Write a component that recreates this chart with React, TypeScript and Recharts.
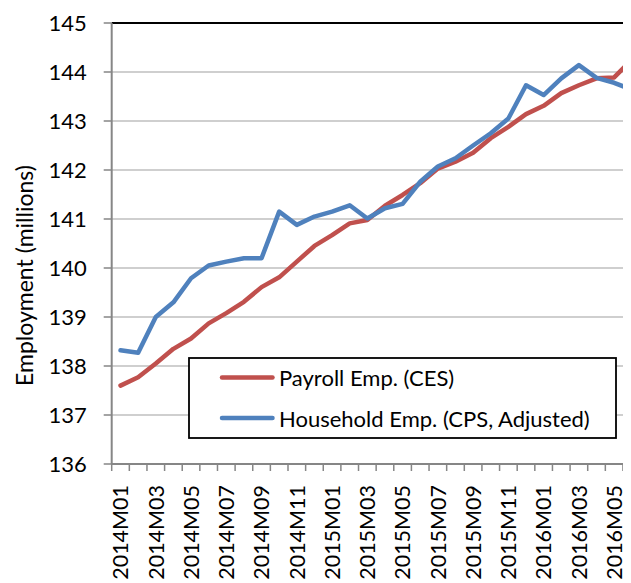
import {
  LineChart,
  Line,
  XAxis,
  YAxis,
  CartesianGrid,
  Legend,
  ReferenceLine,
} from "recharts";

const months = [
  "2014M01", "2014M02", "2014M03", "2014M04", "2014M05", "2014M06",
  "2014M07", "2014M08", "2014M09", "2014M10", "2014M11", "2014M12",
  "2015M01", "2015M02", "2015M03", "2015M04", "2015M05", "2015M06",
  "2015M07", "2015M08", "2015M09", "2015M10", "2015M11", "2015M12",
  "2016M01", "2016M02", "2016M03", "2016M04", "2016M05", "2016M06",
];

// millions of jobs
const payroll = [
  137.6, 137.77, 138.05, 138.35, 138.56, 138.87, 139.08, 139.31, 139.61, 139.81,
  140.13, 140.45, 140.67, 140.91, 140.98, 141.27, 141.49, 141.73, 142.03, 142.17,
  142.35, 142.65, 142.88, 143.14, 143.31, 143.57, 143.73, 143.87, 143.89, 144.25,
];

const household = [
  138.32, 138.27, 139.0, 139.3, 139.79, 140.05, 140.13, 140.2, 140.2, 141.15,
  140.88, 141.05, 141.15, 141.28, 141.01, 141.22, 141.31, 141.76, 142.07, 142.24,
  142.5, 142.75, 143.05, 143.73, 143.53, 143.87, 144.14, 143.88, 143.78, 143.64,
];

const yTicks = [136, 137, 138, 139, 140, 141, 142, 143, 144, 145];

const seriesNames = ["Payroll Emp. (CES)", "Household Emp. (CPS, Adjusted)"];

const RED = "#C0504D";
const BLUE = "#4F81BD";
const AXIS = "#868686";

const data = months.map((m, i) => ({
  month: m,
  pos: i + 0.5,
  payroll: payroll[i],
  household: household[i],
}));

// tick marks sit between months, labels on every other month
const boundaryTicks = [...months.map((_, i) => i), months.length];
const labelTicks = months.map((_, i) => i + 0.5).filter((_, i) => i % 2 === 0);

function MonthTick({ x, y, payload }: any) {
  const label = months[Math.floor(payload.value)];
  return (
    <text
      x={x}
      y={y}
      transform={`rotate(-90 ${x} ${y})`}
      textAnchor="end"
      dy="0.36em"
      fontSize={21.5}
      fill="#000"
    >
      {label}
    </text>
  );
}

function YTitle({ viewBox }: any) {
  const cx = viewBox.x + 16;
  const cy = viewBox.y + viewBox.height / 2 + 32;
  return (
    <text
      x={cx}
      y={cy}
      transform={`rotate(-90 ${cx} ${cy})`}
      textAnchor="middle"
      dominantBaseline="central"
      fontSize={23}
      fill="#000"
    >
      Employment (millions)
    </text>
  );
}

function LegendBox({ payload }: any) {
  const rows = [...(payload || [])].sort(
    (a: any, b: any) => seriesNames.indexOf(a.value) - seriesNames.indexOf(b.value)
  );
  return (
    <svg width={429} height={82}>
      <rect x={1} y={1} width={427} height={80} fill="#fff" stroke="#000" strokeWidth={1.8} />
      {rows.map((p: any, i: number) => {
        const cy = 20.5 + i * 40.6;
        return (
          <g key={p.value}>
            <line
              x1={34}
              y1={cy}
              x2={84.5}
              y2={cy}
              stroke={p.color}
              strokeWidth={4.5}
              strokeLinecap="round"
            />
            <text x={91} y={cy} dominantBaseline="central" fontSize={22} fill="#000">
              {p.value}
            </text>
          </g>
        );
      })}
    </svg>
  );
}

export default function App() {
  return (
    <div style={{ width: 623, height: 575, overflow: "hidden", fontFamily: "Lato" }}>
      <LineChart
        width={660}
        height={600}
        data={data}
        margin={{ top: 15, right: 27.4, bottom: 0, left: 0 }}
      >
        <CartesianGrid
          xAxisId="grid"
          vertical={false}
          stroke="#bfbfbf"
          strokeWidth={1.5}
        />
        <XAxis
          xAxisId="grid"
          dataKey="pos"
          type="number"
          domain={[0, months.length]}
          ticks={boundaryTicks}
          interval={0}
          height={10}
          tickSize={7}
          tickFormatter={() => ""}
          axisLine={{ stroke: AXIS, strokeWidth: 2 }}
          tickLine={{ stroke: AXIS, strokeWidth: 1.5 }}
        />
        <XAxis
          xAxisId="labels"
          dataKey="pos"
          type="number"
          domain={[0, months.length]}
          ticks={labelTicks}
          interval={0}
          height={134}
          tickSize={0}
          tickMargin={11}
          axisLine={false}
          tickLine={false}
          tick={<MonthTick />}
        />
        <YAxis
          domain={[136, 145]}
          ticks={yTicks}
          interval={0}
          width={103.7}
          tickSize={8}
          tickMargin={17}
          axisLine={{ stroke: AXIS, strokeWidth: 2 }}
          tickLine={{ stroke: AXIS, strokeWidth: 1.5 }}
          tick={{ fill: "#000", fontSize: 22 }}
          label={<YTitle />}
        />
        <ReferenceLine xAxisId="grid" y={145} stroke="#000" strokeWidth={2} />
        <Legend
          layout="vertical"
          align="center"
          verticalAlign="middle"
          content={<LegendBox />}
          wrapperStyle={{ left: 180.3, top: 349.3, width: 429, height: 82 }}
        />
        <Line
          xAxisId="grid"
          dataKey="payroll"
          name={seriesNames[0]}
          stroke={RED}
          strokeWidth={4.5}
          strokeLinejoin="round"
          strokeLinecap="round"
          dot={false}
          isAnimationActive={false}
        />
        <Line
          xAxisId="grid"
          dataKey="household"
          name={seriesNames[1]}
          stroke={BLUE}
          strokeWidth={4.5}
          strokeLinejoin="round"
          strokeLinecap="round"
          dot={false}
          isAnimationActive={false}
        />
      </LineChart>
    </div>
  );
}
